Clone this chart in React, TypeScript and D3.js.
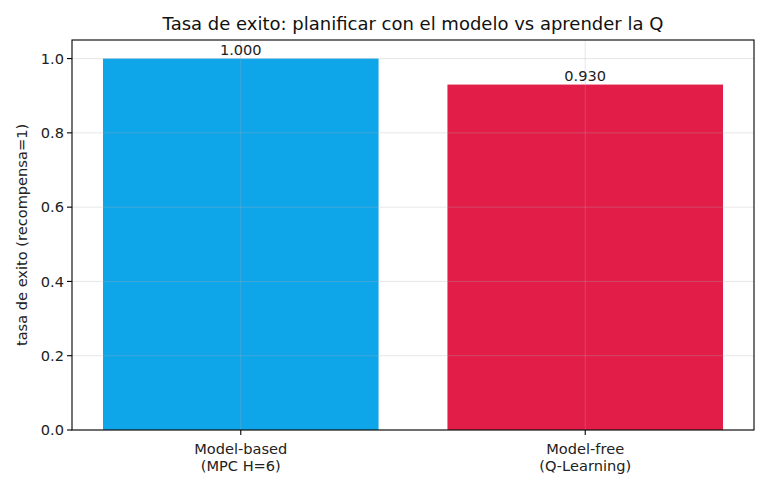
import React from "react";
import * as d3 from "d3";

const categories = ["Model-based\n(MPC H=6)", "Model-free\n(Q-Learning)"];
const values = [1.0, 0.93];
const colors = ["#0EA5E9", "#E11D48"];
const yTicks = [0, 0.2, 0.4, 0.6, 0.8, 1.0];
const title = "Tasa de exito: planificar con el modelo vs aprender la Q";
const yLabel = "tasa de exito (recompensa=1)";

const W = 770, H = 495;
const m = { left: 72, right: 754, top: 40, bottom: 430 };
const font = "DejaVu Sans, sans-serif";
const fs = 14.6;

export default function App() {
  const x = d3.scaleLinear().domain([-0.49, 1.49]).range([m.left, m.right]);
  const y = d3.scaleLinear().domain([0, 1.05]).range([m.bottom, m.top]);
  const bw = x(0.8) - x(0);
  return (
    <svg width={W} height={H} style={{ position: "absolute", left: 0, top: 0, background: "#fff" }} fontFamily={font}>
      <rect x={0} y={0} width={W} height={H} fill="#fff" />
      {values.map((v, i) => (
        <rect key={i} x={x(i) - bw / 2} y={y(v)} width={bw} height={y(0) - y(v)} fill={colors[i]} />
      ))}
      {yTicks.map((t) => (
        <line key={"gy" + t} x1={m.left} x2={m.right} y1={y(t)} y2={y(t)} stroke="#b0b0b0" strokeOpacity={0.3} strokeWidth={1} />
      ))}
      {values.map((_, i) => (
        <line key={"gx" + i} x1={x(i)} x2={x(i)} y1={m.top} y2={m.bottom} stroke="#b0b0b0" strokeOpacity={0.3} strokeWidth={1} />
      ))}
      {values.map((v, i) => (
        <text key={"v" + i} x={x(i)} y={y(v) - 4} textAnchor="middle" fontSize={fs} fill="#222">
          {v.toFixed(3)}
        </text>
      ))}
      <rect x={m.left} y={m.top} width={m.right - m.left} height={m.bottom - m.top} fill="none" stroke="#000" strokeWidth={1.1} />
      {yTicks.map((t) => (
        <g key={"ty" + t}>
          <line x1={m.left - 5} x2={m.left} y1={y(t)} y2={y(t)} stroke="#000" strokeWidth={1.1} />
          <text x={m.left - 8} y={y(t)} dy="0.36em" textAnchor="end" fontSize={fs} fill="#222">
            {t.toFixed(1)}
          </text>
        </g>
      ))}
      {categories.map((c, i) => (
        <g key={"tx" + i}>
          <line x1={x(i)} x2={x(i)} y1={m.bottom} y2={m.bottom + 5} stroke="#000" strokeWidth={1.1} />
          {c.split("\n").map((line, j) => (
            <text key={j} x={x(i)} y={454 + j * 17} textAnchor="middle" fontSize={fs} fill="#222">
              {line}
            </text>
          ))}
        </g>
      ))}
      <text transform={`translate(27,${(m.top + m.bottom) / 2}) rotate(-90)`} textAnchor="middle" fontSize={fs} fill="#222">
        {yLabel}
      </text>
      <text x={(m.left + m.right) / 2} y={30} textAnchor="middle" fontSize={18} fill="#111">
        {title}
      </text>
    </svg>
  );
}
